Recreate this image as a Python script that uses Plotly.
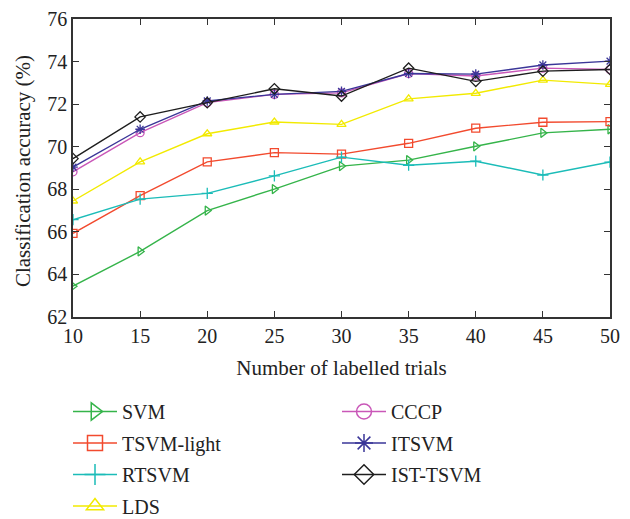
import plotly.graph_objects as go

trials = [10, 15, 20, 25, 30, 35, 40, 45, 50]

svm = [63.45, 65.08, 67.0, 68.01, 69.09, 69.37, 70.02, 70.65, 70.82]
tsvm_light = [65.93, 67.70, 69.29, 69.72, 69.65, 70.16, 70.87, 71.15, 71.18]
rtsvm = [66.57, 67.54, 67.81, 68.63, 69.51, 69.13, 69.32, 68.67, 69.28]
lds = [67.45, 69.29, 70.61, 71.16, 71.05, 72.25, 72.51, 73.13, 72.93]
cccp = [68.82, 70.66, 72.07, 72.46, 72.53, 73.44, 73.32, 73.69, 73.63]
itsvm = [69.04, 70.82, 72.15, 72.46, 72.60, 73.44, 73.41, 73.84, 74.02]
ist_tsvm = [69.44, 71.40, 72.07, 72.72, 72.38, 73.69, 73.07, 73.55, 73.63]

y_ticks = [62, 64, 66, 68, 70, 72, 74, 76]
x_ticks = [10, 15, 20, 25, 30, 35, 40, 45, 50]

series = [
    ("SVM", svm, "#35b44a", "triangle-right-open", "legend"),
    ("TSVM-light", tsvm_light, "#f24a2e", "square-open", "legend"),
    ("RTSVM", rtsvm, "#1bbcb8", "cross-thin-open", "legend"),
    ("LDS", lds, "#f2ea00", "triangle-up-open", "legend"),
    ("CCCP", cccp, "#c957b8", "circle-open", "legend2"),
    ("ITSVM", itsvm, "#3a3698", "asterisk-open", "legend2"),
    ("IST-TSVM", ist_tsvm, "#1e1e1e", "diamond-open", "legend2"),
]

FONT = "Liberation Serif"

fig = go.Figure()
for name, vals, color, sym, leg in series:
    fig.add_trace(go.Scatter(
        x=trials, y=vals, mode="lines+markers", name=name,
        line=dict(color=color, width=1.4),
        marker=dict(symbol=sym, size=8, color=color, line=dict(color=color, width=1.3)),
        showlegend=False,
    ))
for name, vals, color, sym, leg in series:
    fig.add_trace(go.Scatter(
        x=[None], y=[None], mode="lines+markers", name=name,
        line=dict(color=color, width=1.6),
        marker=dict(symbol=sym, size=15, color=color, line=dict(color=color, width=1.5)),
        legend=leg, legendgroup=name, showlegend=True,
    ))

axis_common = dict(
    showline=True, linecolor="#333333", linewidth=1.5, mirror="ticks",
    ticks="inside", ticklen=6, tickwidth=1.2, tickcolor="#333333",
    showgrid=False, zeroline=False, automargin=False,
    ticklabeloverflow="allow",
    tickfont=dict(family=FONT, size=20, color="#222222"),
)

legend_common = dict(
    xref="container", yref="container", xanchor="left", yanchor="top",
    orientation="v", font=dict(family=FONT, size=20, color="#222222"),
    tracegroupgap=2.5, itemwidth=44, bgcolor="rgba(0,0,0,0)",
)

# the page body adds an 8px offset, so margins are shifted to compensate
fig.update_layout(
    width=630, height=519,
    paper_bgcolor="white", plot_bgcolor="white",
    margin=dict(l=65, r=28, t=11, b=210, autoexpand=False),
    font=dict(family=FONT, color="#222222"),
    xaxis=dict(range=[10, 50], tickvals=x_ticks, **axis_common,
               title=dict(text="Number of labelled trials", font=dict(family=FONT, size=21))),
    yaxis=dict(range=[62, 76], tickvals=y_ticks, **axis_common),
    legend=dict(x=60 / 630, y=1 - 384 / 519, **legend_common),
    legend2=dict(x=329 / 630, y=1 - 384 / 519, **legend_common),
    annotations=[dict(
        text="Classification accuracy (%)", textangle=-90,
        xref="paper", yref="paper", x=-0.093, y=0.49,
        xanchor="center", yanchor="middle", showarrow=False,
        font=dict(family=FONT, size=21, color="#222222"),
    )],
)

fig.write_html("out.html")
